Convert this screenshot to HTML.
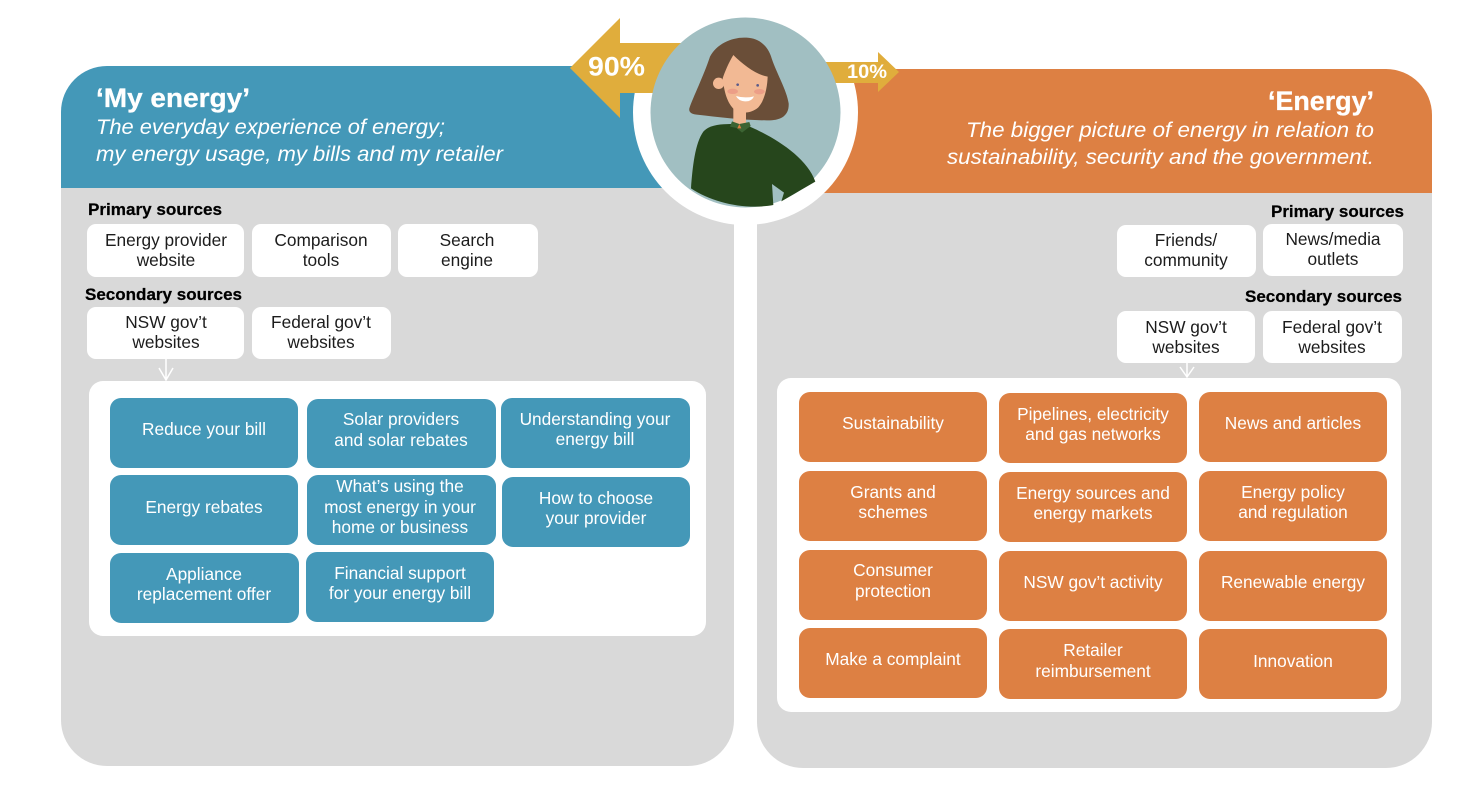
<!DOCTYPE html>
<html><head><meta charset="utf-8"><style>
html,body{margin:0;padding:0;background:#fff}
svg{display:block}
text{font-family:"Liberation Sans",sans-serif}
.w{fill:#fff}
.s text,.s{font-size:17.3px;fill:#1c1c1c;text-anchor:middle}
.c{font-size:17.3px;fill:#fff;text-anchor:middle}
.h{font-size:17px;font-weight:bold;fill:#000;stroke:#000;stroke-width:.25}
.i{font-size:21.5px;font-style:italic;fill:#fff}
.t{font-size:27px;font-weight:bold;fill:#fff;stroke:#fff;stroke-width:.3}
</style></head><body>
<svg width="1482" height="792" viewBox="0 0 1482 792" xmlns="http://www.w3.org/2000/svg">
<rect width="1482" height="792" fill="#fff"/>
<!-- panels -->
<path d="M61 188V112a46 46 0 0 1 46-46H700V188Z" fill="#4498b8"/>
<path d="M61 188H734V720a46 46 0 0 1-46 46H107a46 46 0 0 1-46-46Z" fill="#d9d9d9"/>
<path d="M800 69H1386a46 46 0 0 1 46 46V193H800Z" fill="#dd8043"/>
<path d="M757 193H1432V722a46 46 0 0 1-46 46H803a46 46 0 0 1-46-46Z" fill="#d9d9d9"/>
<rect x="734" y="190" width="23" height="70" fill="#fff"/>
<circle cx="745.5" cy="112.5" r="112.5" fill="#fff"/>
<!-- arrows -->
<path d="M570 68 620 18V43H700V93H620V118Z" fill="#e0ad3c"/>
<path d="M820 62H878V52L899 72 878 92V83H820Z" fill="#e0ad3c"/>
<circle cx="745.5" cy="112.5" r="95" fill="#a1bfc2"/>
<text x="616.5" y="75.5" class="w" font-size="27" font-weight="bold" text-anchor="middle" textLength="57" lengthAdjust="spacingAndGlyphs">90%</text>
<text x="867" y="78" class="w" font-size="19" font-weight="bold" text-anchor="middle" textLength="40" lengthAdjust="spacingAndGlyphs">10%</text>
<!-- person -->
<g transform="translate(560 0) scale(.33333)">
<path d="M388 325C400 290 430 230 450 170C470 130 520 110 560 113C600 115 625 140 635 175C650 220 680 270 686 310C688 345 665 360 630 361C560 362 480 352 410 344C392 342 386 335 388 325Z" fill="#6a4e38"/>
<rect x="520" y="315" width="38" height="65" fill="#f2b994"/>
<circle cx="476" cy="250" r="17" fill="#f2b994"/>
<path d="M520 165C505 190 495 215 488 235C492 270 500 310 525 330C545 342 575 340 595 322C615 300 622 260 623 230C590 225 550 195 520 165Z" fill="#f2b994"/>
<ellipse cx="518" cy="274" rx="16" ry="8" fill="#ec9e87"/>
<ellipse cx="598" cy="275" rx="16" ry="8" fill="#ec9e87"/>
<circle cx="533" cy="254" r="4" fill="#5a5a8a"/><circle cx="593" cy="256" r="4" fill="#5a5a8a"/>
<path d="M528 288Q555 296 582 289Q575 305 555 304Q535 303 528 288Z" fill="#fff"/>
<path d="M393 565C398 500 405 430 430 395C450 372 490 372 520 372L565 378C640 410 740 470 766 545L664 604L672 578L636 552L640 615C560 630 460 610 393 565Z" fill="#26461c"/>
<path d="M516 364 538 372 568 366 572 378 546 398 530 384 510 380Z" fill="#3c6433"/>
<path d="M538 372 544 385H532Z" fill="#dd8043"/>
</g>
<!-- header text -->
<text x="96" y="107" class="t" textLength="154" lengthAdjust="spacingAndGlyphs">‘My energy’</text>
<text x="96" y="134" class="i" textLength="349" lengthAdjust="spacingAndGlyphs">The everyday experience of energy;</text>
<text x="96" y="161" class="i" textLength="407" lengthAdjust="spacingAndGlyphs">my energy usage, my bills and my retailer</text>
<text x="1268" y="110" class="t" textLength="106" lengthAdjust="spacingAndGlyphs">‘Energy’</text>
<text x="966" y="137" class="i" textLength="408" lengthAdjust="spacingAndGlyphs">The bigger picture of energy in relation to</text>
<text x="947" y="164" class="i" textLength="427" lengthAdjust="spacingAndGlyphs">sustainability, security and the government.</text>
<!-- left sources -->
<text x="88" y="215" class="h" textLength="134" lengthAdjust="spacingAndGlyphs">Primary sources</text>
<text x="85" y="300" class="h" textLength="157" lengthAdjust="spacingAndGlyphs">Secondary sources</text>
<text x="1271" y="217" class="h" textLength="133" lengthAdjust="spacingAndGlyphs">Primary sources</text>
<text x="1245" y="302" class="h" textLength="157" lengthAdjust="spacingAndGlyphs">Secondary sources</text>
<g fill="#fff">
<rect x="87" y="224" width="157" height="53" rx="9"/>
<rect x="252" y="224" width="139" height="53" rx="9"/>
<rect x="398" y="224" width="140" height="53" rx="9"/>
<rect x="87" y="307" width="157" height="52" rx="9"/>
<rect x="252" y="307" width="139" height="52" rx="9"/>
<rect x="1117" y="225" width="139" height="52" rx="9"/>
<rect x="1263" y="224" width="140" height="52" rx="9"/>
<rect x="1117" y="311" width="138" height="52" rx="9"/>
<rect x="1263" y="311" width="139" height="52" rx="9"/>
<rect x="89" y="381" width="617" height="255" rx="14"/>
<rect x="777" y="378" width="624" height="334" rx="14"/>
</g>
<g fill="none" stroke="#fff" stroke-width="1.5">
<path d="M166 358V380M159 368 166 380 173 368"/>
<path d="M1187 363V377M1180 367 1187 377 1194 367"/>
</g>
<g class="s">
<text x="166" y="246">Energy provider</text><text x="166" y="266">website</text>
<text x="321" y="246">Comparison</text><text x="321" y="266">tools</text>
<text x="467" y="246">Search</text><text x="467" y="266">engine</text>
<text x="166" y="328">NSW gov’t</text><text x="166" y="348">websites</text>
<text x="321" y="328">Federal gov’t</text><text x="321" y="348">websites</text>
<text x="1186" y="246">Friends/</text><text x="1186" y="266">community</text>
<text x="1333" y="245">News/media</text><text x="1333" y="265">outlets</text>
<text x="1186" y="333">NSW gov’t</text><text x="1186" y="353">websites</text>
<text x="1332" y="333">Federal gov’t</text><text x="1332" y="353">websites</text>
</g>
<!-- blue -->
<g fill="#4498b8">
<rect x="110" y="398" width="188" height="70" rx="11"/>
<rect x="307" y="399" width="189" height="69" rx="11"/>
<rect x="501" y="398" width="189" height="70" rx="11"/>
<rect x="110" y="475" width="188" height="70" rx="11"/>
<rect x="307" y="475" width="189" height="70" rx="11"/>
<rect x="502" y="477" width="188" height="70" rx="11"/>
<rect x="110" y="553" width="189" height="70" rx="11"/>
<rect x="306" y="552" width="188" height="70" rx="11"/>
</g>
<!-- orange -->
<g fill="#dd8043">
<rect x="799" y="392" width="188" height="70" rx="11"/>
<rect x="999" y="393" width="188" height="70" rx="11"/>
<rect x="1199" y="392" width="188" height="70" rx="11"/>
<rect x="799" y="471" width="188" height="70" rx="11"/>
<rect x="999" y="472" width="188" height="70" rx="11"/>
<rect x="1199" y="471" width="188" height="70" rx="11"/>
<rect x="799" y="550" width="188" height="70" rx="11"/>
<rect x="999" y="551" width="188" height="70" rx="11"/>
<rect x="1199" y="551" width="188" height="70" rx="11"/>
<rect x="799" y="628" width="188" height="70" rx="11"/>
<rect x="999" y="629" width="188" height="70" rx="11"/>
<rect x="1199" y="629" width="188" height="70" rx="11"/>
</g>
<g class="c">
<text class="c" x="204" y="435">Reduce your bill</text>
<text class="c" x="401" y="425">Solar providers</text><text class="c" x="401" y="446">and solar rebates</text>
<text class="c" x="595" y="425">Understanding your</text><text class="c" x="595" y="445">energy bill</text>
<text class="c" x="204" y="513">Energy rebates</text>
<text class="c" x="400" y="492">What’s using the</text><text class="c" x="400" y="513">most energy in your</text><text class="c" x="400" y="533">home or business</text>
<text class="c" x="596" y="504">How to choose</text><text class="c" x="596" y="524">your provider</text>
<text class="c" x="204" y="580">Appliance</text><text class="c" x="204" y="600">replacement offer</text>
<text class="c" x="400" y="579">Financial support</text><text class="c" x="400" y="599">for your energy bill</text>
<text class="c" x="893" y="429">Sustainability</text>
<text class="c" x="1093" y="420">Pipelines, electricity</text><text class="c" x="1093" y="440">and gas networks</text>
<text class="c" x="1293" y="429">News and articles</text>
<text class="c" x="893" y="498">Grants and</text><text class="c" x="893" y="518">schemes</text>
<text class="c" x="1093" y="499">Energy sources and</text><text class="c" x="1093" y="519">energy markets</text>
<text class="c" x="1293" y="498">Energy policy</text><text class="c" x="1293" y="518">and regulation</text>
<text class="c" x="893" y="576">Consumer</text><text class="c" x="893" y="597">protection</text>
<text class="c" x="1093" y="588">NSW gov’t activity</text>
<text class="c" x="1293" y="588">Renewable energy</text>
<text class="c" x="893" y="665">Make a complaint</text>
<text class="c" x="1093" y="656">Retailer</text><text class="c" x="1093" y="677">reimbursement</text>
<text class="c" x="1293" y="667">Innovation</text>
</g>
</svg>
</body></html>
